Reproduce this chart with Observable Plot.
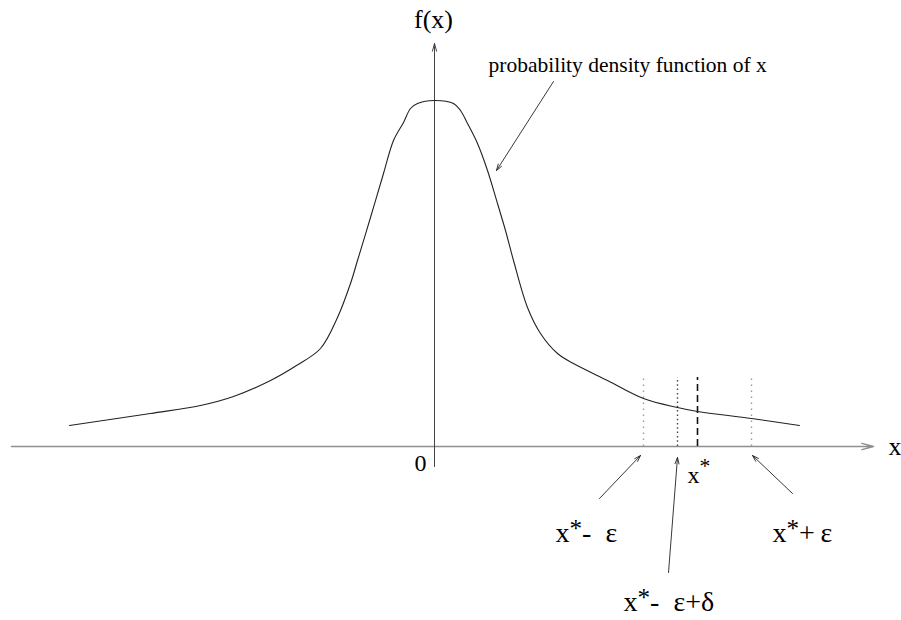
<!DOCTYPE html>
<html><head><meta charset="utf-8">
<script src="https://cdn.jsdelivr.net/npm/d3@7"></script>
<script src="https://cdn.jsdelivr.net/npm/@observablehq/plot@0.6"></script>
<style>body{margin:0;background:#fff}</style>
</head><body><div id="chart"></div>
<script>
// density curve
const curveX = [-3.65,-2.84,-2.34,-2.01,-1.64,-1.38,-1.14,-0.97,-0.84,-0.77,-0.64,-0.51,-0.41,-0.31,-0.24,-0.17,0,0.19,0.26,0.33,0.43,0.53,0.63,0.71,0.79,0.93,1.06,1.23,1.39,1.73,2.09,2.43,2.63,3.17,3.65];
const curveY = [0.021,0.033,0.041,0.050,0.066,0.081,0.098,0.129,0.163,0.186,0.229,0.273,0.306,0.324,0.338,0.343,0.346,0.343,0.336,0.323,0.303,0.276,0.243,0.216,0.186,0.139,0.113,0.093,0.083,0.066,0.048,0.039,0.035,0.028,0.021];

// vertical markers
const markerNames = ["x*- ε", "x*- ε+δ", "x*", "x*+ ε"];
const markerX = [2.09, 2.43, 2.63, 3.17];
const markerTop = 0.069;

// axes
const xAxisRange = [-4.23, 4.39];
const yAxisRange = [-0.020, 0.403];

// annotation labels
const labelText = ["f(x)", "x", "0", "probability density function of x", "x*", "x*-\u00a0\u00a0ε", "x*+\u2009ε", "x*-\u00a0\u00a0ε+δ"];
const labelX = [-0.01, 4.54, -0.14, 0.54, 2.53, 1.21, 3.38, 1.89];
const labelY = [0.427, 0.000, -0.017, 0.381, -0.029, -0.087, -0.087, -0.156];
const labelAnchor = ["middle", "start", "middle", "start", "start", "start", "start", "start"];
const labelSize = [26, 26, 24, 21.5, 24, 28, 28, 28];

// annotation arrows (tail -> head)
const arrowX1 = [1.19, 1.65, 2.34, 3.58];
const arrowY1 = [0.365, -0.052, -0.126, -0.047];
const arrowX2 = [0.62, 2.06, 2.43, 3.18];
const arrowY2 = [0.276, -0.009, -0.011, -0.009];

const curve = curveX.map((x, i) => ({x, y: curveY[i]}));
const markers = markerNames.map((name, i) => ({name, x: markerX[i]}));
const labels = labelText.map((t, i) => ({t, x: labelX[i], y: labelY[i], a: labelAnchor[i], s: labelSize[i]}));
const arrows = arrowX1.map((x1, i) => ({x1, y1: arrowY1[i], x2: arrowX2[i], y2: arrowY2[i]}));

const outerDotted = markers.filter(d => d.name === "x*- ε" || d.name === "x*+ ε");
const innerDotted = markers.filter(d => d.name === "x*- ε+δ");
const dashed = markers.filter(d => d.name === "x*");

const font = "Liberation Serif, Times New Roman, serif";

const textMarks = labels.map(d => Plot.text([d], {
  x: "x", y: "y", text: "t", textAnchor: d.a, lineAnchor: "middle",
  fontFamily: font, fontSize: d.s, fill: "#000"
}));

const chart = Plot.plot({
  width: 901, height: 620,
  margin: 0,
  x: {domain: [-4.34, 4.67], axis: null},
  y: {domain: [-0.174, 0.446], axis: null},
  marks: [
    // x axis
    Plot.arrow([{x1: xAxisRange[0], x2: xAxisRange[1]}], {x1: "x1", x2: "x2", y1: 0, y2: 0, stroke: "#8f8f8f", strokeWidth: 1.5, headLength: 12, headAngle: 30}),
    // y axis
    Plot.arrow([{y1: yAxisRange[0], y2: yAxisRange[1]}], {x1: 0, x2: 0, y1: "y1", y2: "y2", stroke: "#444", strokeWidth: 1, headLength: 12, headAngle: 30}),
    // markers
    Plot.ruleX(outerDotted, {x: "x", y1: 0, y2: markerTop, stroke: "#9a9a9a", strokeWidth: 1.4, strokeDasharray: "1.5,4.5"}),
    Plot.ruleX(innerDotted, {x: "x", y1: 0, y2: markerTop, stroke: "#444", strokeWidth: 1.4, strokeDasharray: "1.5,2.8"}),
    Plot.ruleX(dashed, {x: "x", y1: 0, y2: markerTop, stroke: "#111", strokeWidth: 1.6, strokeDasharray: "7,4"}),
    // curve
    Plot.line(curve, {x: "x", y: "y", curve: "catmull-rom", stroke: "#222", strokeWidth: 1.1}),
    // annotation arrows
    Plot.arrow(arrows, {x1: "x1", y1: "y1", x2: "x2", y2: "y2", stroke: "#222", strokeWidth: 0.9, headLength: 11, headAngle: 35}),
    ...textMarks
  ]
});

// raise the asterisk as a superscript
d3.select(chart).selectAll("text").each(function() {
  const el = d3.select(this);
  const s = this.textContent;
  const k = s.indexOf("*");
  if (k < 0) return;
  const lift = s === "x*" ? 10 : 5;
  el.text(null);
  el.append("tspan").text(s.slice(0, k));
  el.append("tspan").attr("dy", -lift).attr("font-size", "0.9em").text("*");
  el.append("tspan").attr("dy", lift).text(s.slice(k + 1));
});

document.getElementById("chart").append(chart);
</script>
</body></html>
